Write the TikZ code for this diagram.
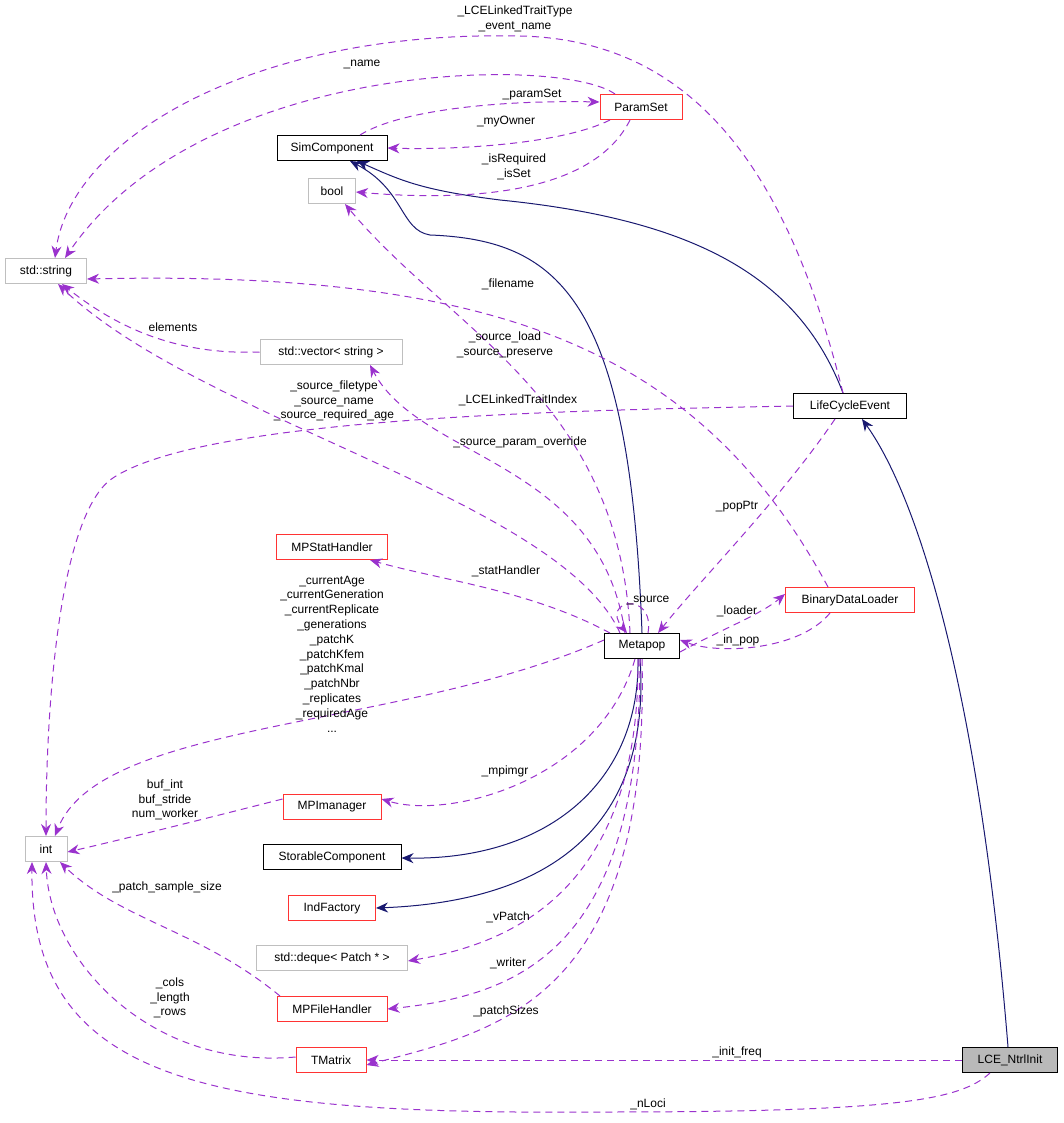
\documentclass[tikz,border=0pt]{standalone}
\usepackage{fontspec}
\setmainfont{Liberation Sans}
\usetikzlibrary{arrows.meta}
\definecolor{ed}{HTML}{9A32CD}
\definecolor{nv}{HTML}{191970}
\definecolor{rb}{HTML}{FF3333}
\definecolor{gb}{HTML}{BFBFBF}
\begin{document}
\begin{tikzpicture}[x=1pt,y=-1pt,
  font=\fontsize{12}{14.8}\selectfont,
  box/.style={draw,line width=1pt,minimum height=25pt,inner sep=0pt,fill=white},
  blk/.style={box,draw=black},
  red/.style={box,draw=rb},
  gry/.style={box,draw=gb},
  dep/.style={draw=ed,dashed,dash pattern=on 7pt off 5pt,line width=1pt,-{Stealth[length=12pt,width=10pt,fill=ed]}},
  inh/.style={draw=nv,line width=1pt,-{Stealth[length=12pt,width=10pt,fill=nv]}},
  lab/.style={align=center,inner sep=0pt}]
\useasboundingbox (0,0) rectangle (1064,1123);
% nodes
\node[red,minimum width=82pt] (ps) at (641,107) {ParamSet};
\node[blk,minimum width=110pt] (sc) at (332,148) {SimComponent};
\node[gry,minimum width=47pt] (bool) at (332,191) {bool};
\node[gry,minimum width=81pt] (str) at (46,271) {std::string};
\node[gry,minimum width=142pt] (vec) at (331,352) {std::vector< string >};
\node[blk,minimum width=113pt] (lce) at (850,406) {LifeCycleEvent};
\node[red,minimum width=111pt] (msh) at (332,547) {MPStatHandler};
\node[red,minimum width=129pt] (bdl) at (850,600) {BinaryDataLoader};
\node[blk,minimum width=75pt] (mp) at (642,646) {Metapop};
\node[gry,minimum width=42pt] (int) at (46,849) {int};
\node[red,minimum width=98pt] (mpi) at (332,807) {MPImanager};
\node[blk,minimum width=138pt] (stc) at (332,857) {StorableComponent};
\node[red,minimum width=87pt] (indf) at (332,908) {IndFactory};
\node[gry,minimum width=151pt] (deq) at (332,958) {std::deque< Patch * >};
\node[red,minimum width=110pt] (mpf) at (332,1009) {MPFileHandler};
\node[red,minimum width=70pt] (tm) at (331,1060) {TMatrix};
\node[blk,fill=gray!55,minimum width=95pt] (ntrl) at (1010,1060) {LCE\_NtrlInit};
% coordinates
\coordinate (c1) at (520,36);
\coordinate (c2) at (430,235);
\coordinate (c3) at (500,200);
\coordinate (c4) at (110,480);
\coordinate (c5) at (600,1112);
% inheritance
\draw[inh] (mp.north) .. controls (630,300) and (560,240) .. (c2) .. controls (400,230) and (405,190) .. ([xshift=18pt]sc.south);
\draw[inh] ([xshift=-7pt]lce.north) .. controls (800,280) and (700,220) .. (c3) .. controls (420,190) and (400,180) .. ([xshift=25pt]sc.south);
\draw[inh] ([xshift=-2pt]ntrl.north) .. controls (980,700) and (920,500) .. ([xshift=12pt]lce.south);
\draw[inh] ([xshift=-4pt]mp.south) .. controls (640,780) and (550,860) .. ([yshift=-1pt]stc.east);
\draw[inh] ([xshift=-2pt]mp.south) .. controls (650,800) and (580,900) .. (indf.east);
% dependencies
\draw[dep] ([xshift=-26pt]ps.north) .. controls (560,55) and (200,60) .. ([xshift=19pt]str.north);
\draw[dep] ([xshift=-7pt]lce.north) .. controls (790,180) and (700,40) .. (c1) .. controls (250,30) and (70,140) .. ([xshift=9pt]str.north);
\draw[dep] ([xshift=28pt]sc.north) .. controls (400,110) and (500,100) .. ([yshift=5pt]ps.west);
\draw[dep] ([xshift=-31pt]ps.south) .. controls (560,145) and (450,150) .. (sc.east);
\draw[dep] ([xshift=-11pt]ps.south) .. controls (590,200) and (450,200) .. ([yshift=-1pt]bool.east);
\draw[dep] ([xshift=-12pt]mp.north) .. controls (620,400) and (450,330) .. ([xshift=13pt]bool.south);
\draw[dep] ([xshift=-22pt]bdl.north) .. controls (700,350) and (500,270) .. ([yshift=-8pt]str.east);
\draw[dep] (vec.west) .. controls (180,355) and (120,330) .. ([xshift=16pt]str.south);
\draw[dep] ([xshift=-22pt]mp.north) .. controls (560,500) and (200,420) .. ([xshift=12pt]str.south);
\draw[dep] ([xshift=-17pt]mp.north) .. controls (600,460) and (420,460) .. ([xshift=39pt]vec.south);
\draw[dep] (lce.west) .. controls (600,410) and (200,415) .. (c4) .. controls (60,520) and (46,700) .. (int.north);
\draw[dep] ([xshift=-15pt]lce.south) .. controls (780,500) and (700,580) .. ([xshift=16pt]mp.north);
\draw[dep] ([xshift=-32pt]mp.north) .. controls (530,590) and (440,580) .. ([xshift=38pt]msh.south);
\draw[dep] ([yshift=-6pt]mp.east) .. controls (720,630) and (760,615) .. ([yshift=6pt]bdl.west);
\draw[dep] ([xshift=-20pt]bdl.south) .. controls (800,650) and (720,655) .. ([yshift=6pt]mp.east);
\draw[dep] ([xshift=6pt]mp.north) .. controls (655,590) and (600,600) .. ([xshift=-15pt]mp.north);
\draw[dep] ([yshift=6pt]mp.west) .. controls (400,730) and (100,720) .. ([xshift=9pt]int.north);
\draw[dep] ([xshift=-7pt]mp.south) .. controls (600,780) and (450,820) .. ([yshift=8pt]mpi.east);
\draw[dep] ([yshift=8pt]mpi.west) .. controls (200,820) and (120,840) .. ([yshift=-3pt]int.east);
\draw[dep] ([xshift=-4pt]mp.south) .. controls (640,900) and (500,945) .. ([yshift=-3pt]deq.east);
\draw[dep] ([xshift=-2pt]mp.south) .. controls (640,950) and (520,995) .. (mpf.east);
\draw[dep] (mp.south) .. controls (650,1000) and (500,1030) .. ([yshift=-5pt]tm.east);
\draw[dep] ([xshift=-52pt]mpf.north) .. controls (200,930) and (120,920) .. ([xshift=14pt]int.south);
\draw[dep] ([yshift=3pt]tm.west) .. controls (150,1070) and (50,960) .. (int.south);
\draw[dep] (ntrl.west) -- (tm.east);
\draw[dep] ([xshift=-20pt]ntrl.south) .. controls (960,1100) and (900,1112) .. (c5) .. controls (200,1115) and (30,1080) .. ([xshift=-14pt]int.south);
% labels
\node[lab] (l1) at (515,19) {\_LCELinkedTraitType\\\_event\_name};
\node[lab] (l2) at (362,64) {\_name};
\node[lab] (l3) at (532,95) {\_paramSet};
\node[lab] (l4) at (506,122) {\_myOwner};
\node[lab] (l5) at (514,167) {\_isRequired\\\_isSet};
\node[lab] (l6) at (508,284) {\_filename};
\node[lab] (l7) at (173,327) {elements};
\node[lab] (l8) at (505,345) {\_source\_load\\\_source\_preserve};
\node[lab] (l9) at (334,401) {\_source\_filetype\\\_source\_name\\\_source\_required\_age};
\node[lab] (l10) at (520,442) {\_source\_param\_override};
\node[lab] (l11) at (518,400) {\_LCELinkedTraitIndex};
\node[lab] (l12) at (737,507) {\_popPtr};
\node[lab] (l13) at (506,571) {\_statHandler};
\node[lab] (l14) at (648,600) {\_source};
\node[lab] (l15) at (737,611) {\_loader};
\node[lab] (l16) at (738,640) {\_in\_pop};
\node[lab] (l17) at (332,654) {\_currentAge\\\_currentGeneration\\\_currentReplicate\\\_generations\\\_patchK\\\_patchKfem\\\_patchKmal\\\_patchNbr\\\_replicates\\\_requiredAge\\...};
\node[lab] (l18) at (505,771) {\_mpimgr};
\node[lab] (l19) at (165,800) {buf\_int\\buf\_stride\\num\_worker};
\node[lab] (l20) at (167,887) {\_patch\_sample\_size};
\node[lab] (l21) at (508,917) {\_vPatch};
\node[lab] (l22) at (508,963) {\_writer};
\node[lab] (l23) at (170,998) {\_cols\\\_length\\\_rows};
\node[lab] (l24) at (506,1011) {\_patchSizes};
\node[lab] (l25) at (737,1052) {\_init\_freq};
\node[lab] (l26) at (648,1104) {\_nLoci};
\end{tikzpicture}
\end{document}
